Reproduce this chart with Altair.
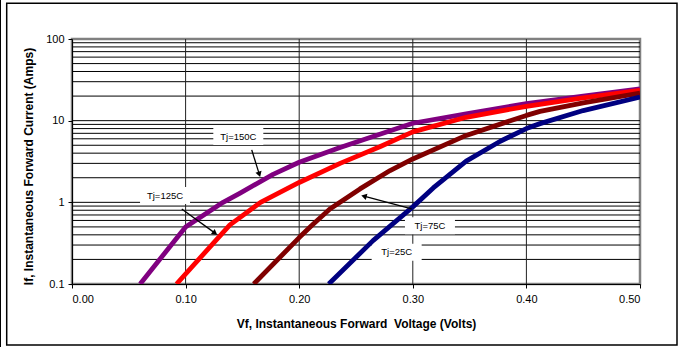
import math
import altair as alt
import pandas as pd

# ---- data ----
series = ["Tj=150C", "Tj=125C", "Tj=75C", "Tj=25C"]
colors = ["#800080", "#FF0000", "#800000", "#000080"]

v150 = [0.060, 0.100, 0.133, 0.148, 0.177, 0.200, 0.236, 0.300, 0.347, 0.400, 0.450, 0.500]
i150 = [0.10, 0.50, 1.00, 1.30, 2.20, 3.10, 4.70, 9.30, 12.1, 16.2, 20.0, 24.5]

v125 = [0.092, 0.139, 0.166, 0.200, 0.236, 0.271, 0.300, 0.347, 0.400, 0.450, 0.500]
i125 = [0.10, 0.53, 1.00, 1.75, 3.00, 4.80, 7.30, 11.0, 15.0, 19.0, 23.5]

v75 = [0.160, 0.200, 0.211, 0.227, 0.2535, 0.280, 0.300, 0.347, 0.400, 0.412, 0.450, 0.500]
i75 = [0.10, 0.37, 0.52, 0.83, 1.46, 2.45, 3.40, 6.60, 11.6, 13.0, 16.5, 21.7]

v25 = [0.226, 0.265, 0.300, 0.318, 0.347, 0.377, 0.400, 0.412, 0.450, 0.500]
i25 = [0.10, 0.34, 0.88, 1.50, 3.20, 5.60, 8.00, 9.20, 13.3, 19.5]

x_ticks = [0.0, 0.1, 0.2, 0.3, 0.4, 0.5]
y_ticks = [0.1, 1, 10, 100]
x_grid = [0.1, 0.2, 0.3, 0.4]
y_grid = [m * d for d in (0.1, 1, 10) for m in range(1, 10) if m * d > 0.1]

# annotation labels (centre in data units)
lab_text = ["Tj=150C", "Tj=125C", "Tj=75C", "Tj=25C"]
lab_v = [0.1464, 0.0819, 0.3151, 0.2858]
lab_i = [6.38, 1.21, 0.518, 0.244]

# arrows: start -> tip (data units)
arr_v1 = [0.1582, 0.0966, 0.299]
arr_i1 = [4.39, 0.83, 0.83]
arr_v2 = [0.1649, 0.1259, 0.257]
arr_i2 = [2.20, 0.42, 1.19]

# ---- layout ----
W, H = 568, 245
PL, PT, PR, PB = 72, 39, 39, 63
FONT = "Liberation Sans, Arial, sans-serif"

rows = []
for name, vs, ys in zip(series, [v150, v125, v75, v25], [i150, i125, i75, i25]):
    for k, (v, i) in enumerate(zip(vs, ys)):
        rows.append({"series": name, "v": v, "i": i, "k": k})
curves = pd.DataFrame(rows)

xs = alt.Scale(domain=[0, 0.5], nice=False, zero=False)
ys_ = alt.Scale(type="log", domain=[0.1, 100], nice=False)

X_AXIS = alt.Axis(values=x_ticks, format=".2f", grid=False,
                  title="Vf, Instantaneous Forward \u00a0Voltage (Volts)",
                  domainColor="black", domainWidth=1, tickColor="black", tickSize=4,
                  labelFont=FONT, labelFontSize=11, labelColor="black", labelPadding=5,
                  titleFont=FONT, titleFontSize=12, titleFontWeight="bold", titleColor="black",
                  titleY=39, titleBaseline="middle")
Y_AXIS = alt.Axis(values=y_ticks, format="~g", grid=False, title="If, Instantaneous Forward Current (Amps)",
                  domainColor="black", domainWidth=1, tickColor="black", tickSize=4,
                  labelFont=FONT, labelFontSize=11, labelColor="black", labelPadding=4,
                  titleFont=FONT, titleFontSize=12, titleFontWeight="bold", titleColor="black",
                  titleX=-44, titleY=127, titleBaseline="middle", titleAlign="center")


def X(f):
    return alt.X(f, scale=xs, axis=X_AXIS)


def Y(f):
    return alt.Y(f, scale=ys_, axis=Y_AXIS)


hgrid = alt.Chart(pd.DataFrame({"i": y_grid})).mark_rule(color="black", strokeWidth=1).encode(y=Y("i:Q"))
vgrid = alt.Chart(pd.DataFrame({"v": x_grid})).mark_rule(color="#222222", strokeWidth=1).encode(x=X("v:Q"))

labels = pd.DataFrame({"t": lab_text, "v": lab_v, "i": lab_i})
boxes = alt.Chart(labels).mark_rect(color="white", width=50, height=17).encode(x=X("v:Q"), y=Y("i:Q"))

lines = alt.Chart(curves).mark_line(strokeWidth=4.8, clip=True, strokeJoin="round").encode(
    x=X("v:Q"), y=Y("i:Q"),
    color=alt.Color("series:N", scale=alt.Scale(domain=series, range=colors), legend=None),
    order="k:Q",
)

texts = alt.Chart(labels).mark_text(font=FONT, fontSize=9.5, color="black", baseline="middle", align="center").encode(
    x=X("v:Q"), y=Y("i:Q"), text="t:N"
)

# arrow heads angle computed in screen space
ang = []
for a, b, c, d in zip(arr_v1, arr_i1, arr_v2, arr_i2):
    dx = (c - a) / 0.5 * W
    dy = -(math.log10(d) - math.log10(b)) / 3 * H
    ang.append(math.degrees(math.atan2(dx, -dy)) % 360)
arrows = pd.DataFrame({"v1": arr_v1, "i1": arr_i1, "v2": arr_v2, "i2": arr_i2, "ang": ang})

shafts = alt.Chart(arrows).mark_rule(color="black", strokeWidth=1.3).encode(
    x=X("v1:Q"), y=Y("i1:Q"), x2="v2:Q", y2="i2:Q"
)
heads = alt.Chart(arrows).mark_point(shape="triangle-up", filled=True, color="black", size=40, opacity=1).encode(
    x=X("v2:Q"), y=Y("i2:Q"), angle=alt.Angle("ang:Q", scale=None)
)

frame = alt.Chart(pd.DataFrame({"a": [0]})).mark_rect(filled=False, stroke="black", strokeWidth=1.5).encode(
    x=alt.value(6.7 - PL), x2=alt.value(677 - PL), y=alt.value(3.3 - PT), y2=alt.value(345 - PT)
)
edge = alt.Chart(pd.DataFrame({"a": [0]})).mark_rule(color="black", strokeWidth=1).encode(
    x=alt.value(0.5 - PL), y=alt.value(-PT), y2=alt.value(347 - PT)
)

chart = alt.layer(hgrid, vgrid, boxes, lines, texts, shafts, heads, frame, edge).properties(
    width=W, height=H,
    autosize=alt.AutoSizeParams(type="none"),
    padding={"left": PL, "top": PT, "right": PR, "bottom": PB},
    background="white",
).configure_view(stroke="#808080", strokeWidth=2.5)

chart.save("out.html", embed_options={"renderer": "svg", "actions": False})
